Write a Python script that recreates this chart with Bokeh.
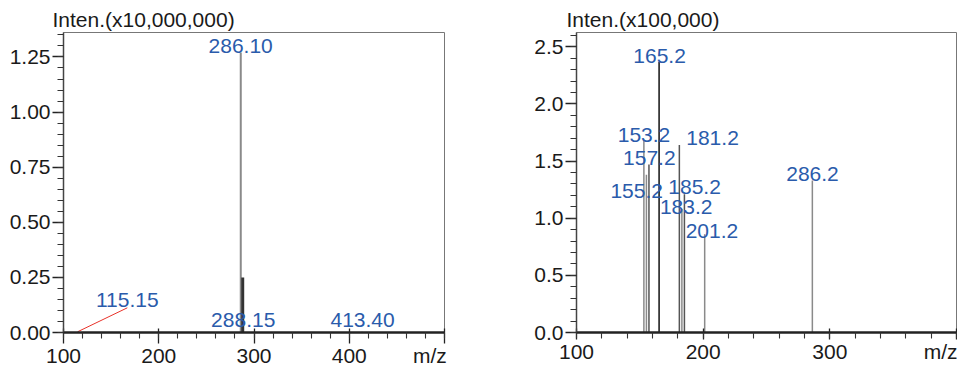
import numpy as np
from bokeh.plotting import figure
from bokeh.layouts import row
from bokeh.models import (FixedTicker, SingleIntervalTicker, NumeralTickFormatter, Range1d,
                          ColumnDataSource, LinearAxis)
from bokeh.core.properties import value
from bokeh.embed import file_html
from bokeh.resources import INLINE

# ---------------- data ----------------
# Left spectrum (intensity x10,000,000)
left_mz = [115.15, 286.10, 288.15, 413.40]
left_int = [0.004, 1.27, 0.25, 0.003]
left_labels = ["115.15", "286.10", "288.15", "413.40"]
left_label_x = [167.0, 286.0, 288.7, 414.0]
left_label_y = [0.149, 1.300, 0.055, 0.055]     # label centres
left_colors = ["#555555", "#8a8a8a", "#333333", "#555555"]
left_widths = [1.0, 2.0, 3.0, 1.0]
# leader line from the 115.15 peak to its label
leader_x0 = [115.15]
leader_y0 = [0.004]
leader_x1 = [167.0]
leader_y1 = [0.112]

# Right spectrum (intensity x100,000)
right_mz = [153.2, 155.2, 157.2, 165.2, 181.2, 183.2, 185.2, 201.2, 286.2]
right_int = [1.68, 1.38, 1.47, 2.37, 1.64, 1.08, 1.21, 0.86, 1.33]
right_labels = ["153.2", "155.2", "157.2", "165.2", "181.2", "183.2", "185.2", "201.2", "286.2"]
right_label_x = [153.3, 147.5, 157.5, 165.6, 207.4, 186.6, 193.2, 206.9, 286.3]
right_label_y = [1.732, 1.236, 1.531, 2.42, 1.702, 1.096, 1.273, 0.889, 1.39]  # label centres
right_colors = ["#8a8a8a", "#8a8a8a", "#555555", "#111111", "#555555",
                "#8a8a8a", "#555555", "#8a8a8a", "#8a8a8a"]

left_yticks = [0.0, 0.25, 0.5, 0.75, 1.0, 1.25]
right_yticks = [0.0, 0.5, 1.0, 1.5, 2.0, 2.5]
x_unit = "m/z"

FONT = "Liberation Sans"
BLUE = "#2a5bab"
TXT = "#1a1a1a"
FS = "21px"
NBSP = "\u00a0"


def make_xaxis(xmax, tick_out, standoff, pad):
    ax = LinearAxis(ticker=SingleIntervalTicker(interval=100, num_minor_ticks=5))
    ax.major_label_overrides = {xmax: x_unit + NBSP * pad}
    ax.major_label_text_font = FONT
    ax.major_label_text_font_size = FS
    ax.major_label_text_color = TXT
    ax.major_tick_in = 4
    ax.minor_tick_in = 0
    ax.major_tick_out = tick_out
    ax.minor_tick_out = 6
    ax.major_tick_line_color = "#222222"
    ax.minor_tick_line_color = "#333333"
    ax.major_tick_line_width = 1.3
    ax.minor_tick_line_width = 1.1
    ax.major_label_standoff = standoff
    ax.axis_line_color = "#222222"
    ax.axis_line_width = 2.5
    return ax


def style(p, yticks, yminor, yfmt):
    p.xgrid.visible = False
    p.ygrid.visible = False
    p.outline_line_color = "#777777"
    p.outline_line_width = 1
    p.background_fill_color = "white"
    p.border_fill_color = "white"
    p.yaxis.ticker = FixedTicker(ticks=[float(v) for v in yticks],
                                 minor_ticks=[float(v) for v in yminor])
    p.yaxis.formatter = NumeralTickFormatter(format=yfmt)
    ya = p.yaxis[0]
    ya.major_label_text_font = FONT
    ya.major_label_text_font_size = FS
    ya.major_label_text_color = TXT
    ya.major_tick_in = 0
    ya.minor_tick_in = 0
    ya.major_tick_out = 11
    ya.minor_tick_out = 6
    ya.major_tick_line_color = "#222222"
    ya.minor_tick_line_color = "#333333"
    ya.major_tick_line_width = 1.3
    ya.minor_tick_line_width = 1.1
    ya.major_label_standoff = 2
    ya.axis_line_color = "#444444"
    ya.axis_line_width = 1.5
    p.title.text_font = FONT
    p.title.text_font_size = FS
    p.title.text_font_style = "normal"
    p.title.text_color = TXT
    p.title.align = "left"
    p.title.standoff = 4


# ---------------- left figure ----------------
p1 = figure(width=516, height=369, output_backend="svg", toolbar_location=None,
            x_range=Range1d(100, 500), y_range=Range1d(0, 1.361), x_axis_location=None,
            min_border_left=63, min_border_right=72, min_border_top=32, min_border_bottom=36,
            title="Inten.(x10,000,000)")
p1.add_layout(make_xaxis(500, 11, 0, 5), "below")
style(p1, left_yticks, np.round(np.arange(0, 1.36, 0.05), 2), "0.00")
p1.title.offset = -11

src1 = ColumnDataSource(dict(x=left_mz, y=left_int, c=left_colors, w=left_widths,
                             lx=left_label_x, ly=left_label_y, t=left_labels))
p1.segment(x0="x", y0=0, x1="x", y1="y", line_color="c", line_width="w", source=src1)
p1.segment(x0=leader_x0, y0=leader_y0, x1=leader_x1, y1=leader_y1,
           line_color="#e8322a", line_width=1)
p1.text(x="lx", y="ly", text="t", source=src1, text_align="center", text_baseline="middle",
        text_font=value(FONT), text_font_size=FS, text_color=BLUE)

# ---------------- right figure ----------------
p2 = figure(width=441, height=369, output_backend="svg", toolbar_location=None,
            x_range=Range1d(100, 400), y_range=Range1d(0, 2.625), x_axis_location=None,
            min_border_left=60, min_border_right=1, min_border_top=32, min_border_bottom=32,
            title="Inten.(x100,000)")
p2.add_layout(make_xaxis(400, 7, 0, 0), "below")
style(p2, right_yticks, np.round(np.arange(0, 2.61, 0.1), 1), "0.0")
p2.title.offset = -10

src2 = ColumnDataSource(dict(x=right_mz, y=right_int, c=right_colors,
                             lx=right_label_x, ly=right_label_y, t=right_labels))
p2.segment(x0="x", y0=0, x1="x", y1="y", line_color="c", line_width=1.5, source=src2)
p2.text(x="lx", y="ly", text="t", source=src2, text_align="center", text_baseline="middle",
        text_font=value(FONT), text_font_size=FS, text_color=BLUE)

layout = row(p1, p2, spacing=0)
open("out.html", "w").write(file_html(layout, INLINE))
